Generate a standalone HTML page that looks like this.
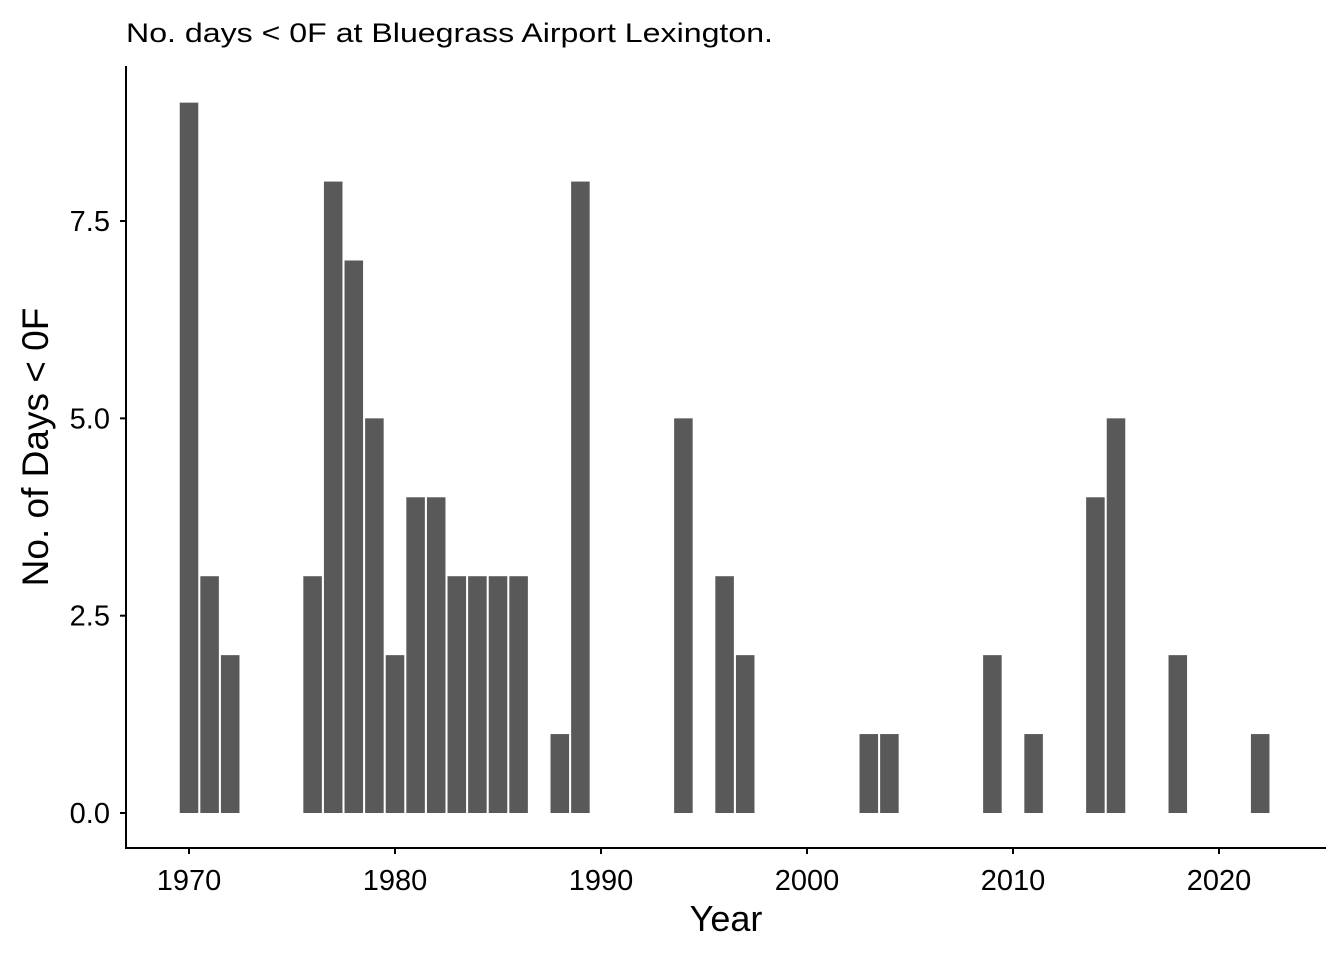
<!DOCTYPE html>
<html><head><meta charset="utf-8"><style>
body{margin:0;background:#fff;}
svg{display:block;font-family:"Liberation Sans",Arial,sans-serif;}
</style></head><body>
<svg id="chart" width="1344" height="960" xmlns="http://www.w3.org/2000/svg">
<text x="126" y="42" font-size="27" textLength="647" lengthAdjust="spacingAndGlyphs" fill="#000">No. days &lt; 0F at Bluegrass Airport Lexington.</text>
<g id="bars"></g>
<g id="axes"></g>
<text x="726" y="931" font-size="36" text-anchor="middle" fill="#000">Year</text>
<text transform="translate(48,447) rotate(-90)" font-size="37" text-anchor="middle" fill="#000">No. of Days &lt; 0F</text>
</svg>
<script>
const years=[1970,1971,1972,1976,1977,1978,1979,1980,1981,1982,1983,1984,1985,1986,1988,1989,1994,1996,1997,2003,2004,2009,2011,2014,2015,2018,2022];
const days=[9,3,2,3,8,7,5,2,4,4,3,3,3,3,1,8,5,3,2,1,1,2,1,4,5,2,1];
const xTicks=[1970,1980,1990,2000,2010,2020];
const yTicks=[0,2.5,5,7.5];
const yTickLabels=["0.0","2.5","5.0","7.5"];
const NS="http://www.w3.org/2000/svg";
const xs=y=>189+(y-1970)*20.6;
const ys=v=>813-v*78.93;
const bars=document.getElementById('bars');
years.forEach((yr,i)=>{
  const r=document.createElementNS(NS,'rect');
  r.setAttribute('x',xs(yr)-9.27);
  r.setAttribute('width',18.54);
  r.setAttribute('y',ys(days[i]));
  r.setAttribute('height',ys(0)-ys(days[i]));
  r.setAttribute('fill','#595959');
  
  
  bars.appendChild(r);
});
const ax=document.getElementById('axes');
function line(x1,y1,x2,y2,name){
  const l=document.createElementNS(NS,'line');
  l.setAttribute('x1',x1);l.setAttribute('y1',y1);l.setAttribute('x2',x2);l.setAttribute('y2',y2);
  l.setAttribute('stroke','#000');l.setAttribute('stroke-width','2');
  
  
  ax.appendChild(l);
}
function text(x,y,s,anchor,name){
  const t=document.createElementNS(NS,'text');
  t.setAttribute('x',x);t.setAttribute('y',y);t.setAttribute('text-anchor',anchor);
  t.setAttribute('font-size','29');t.setAttribute('fill','#000');
  t.textContent=s;
  
  
  ax.appendChild(t);
}
line(126,66,126,849,'y-axis-line');
line(125,848,1326,848,'x-axis-line');
xTicks.forEach(t=>{line(xs(t),848,xs(t),854,'x-tick');text(xs(t),890,String(t),'middle','x-tick-label');});
yTicks.forEach((t,i)=>{line(120,ys(t),126,ys(t),'y-tick');text(110,ys(t)+10,yTickLabels[i],'end','y-tick-label');});
</script>
</body></html>
